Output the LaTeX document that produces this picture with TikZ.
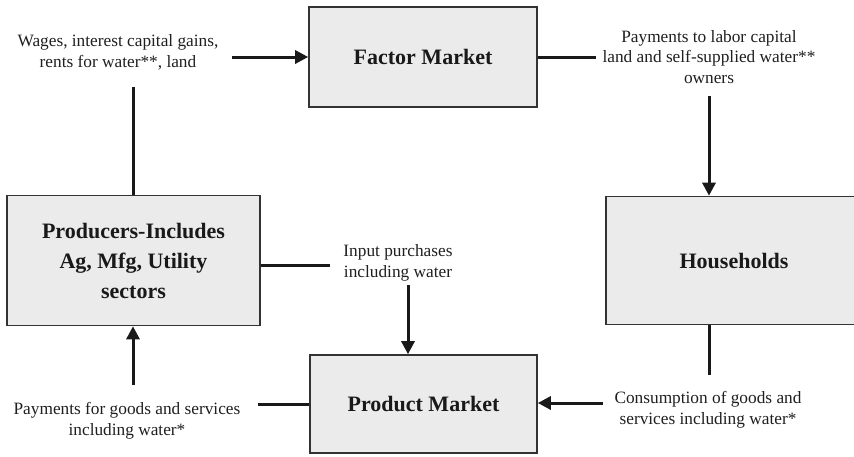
\documentclass[tikz,border=0pt]{standalone}
\usepackage{fontspec}
\setmainfont{Liberation Serif}
\usetikzlibrary{arrows.meta}
\begin{document}
\begin{tikzpicture}[x=1pt,y=-1pt,
  marketbox/.style={draw=black!80,line width=1.6pt,fill=black!8,
    inner sep=0pt,align=center,text=black!90,font=\fontsize{22}{30}\selectfont\bfseries},
  flowlabel/.style={align=center,inner sep=0pt,text=black!88,
    font=\fontsize{17.3}{20.8}\selectfont},
  flow/.style={line width=3pt,black!90},
  flowarrow/.style={flow,-{Triangle[length=13pt,width=13pt]}}]
\useasboundingbox (0,0) rectangle (854,456);
\clip (0,0) rectangle (854,456);

% sectors and markets
\node[marketbox,minimum width=228,minimum height=100] (factor) at (423,57) {Factor Market};
\node[marketbox,minimum width=253,minimum height=130] (prod) at (133.5,260.5)
  {Producers-Includes\\Ag, Mfg, Utility\\sectors};
\node[marketbox,minimum width=256,minimum height=128] (house) at (734,260.5) {Households};
\node[marketbox,minimum width=227,minimum height=98] (product) at (423.5,404) {Product Market};

% flow descriptions
\node[flowlabel] (wages) at (118,52) {Wages, interest capital gains,\\rents for water**, land};
\node[flowlabel] (payfac) at (709,57) {Payments to labor capital\\land and self-supplied water**\\owners};
\node[flowlabel] (input) at (398,263) {Input purchases\\including water};
\node[flowlabel] (paygoods) at (127,421) {Payments for goods and services\\including water*};
\node[flowlabel] (consum) at (708,410) {Consumption of goods and\\services including water*};

% free ends of the connectors
\coordinate (w1) at (133,87);
\coordinate (w2) at (232,57);
\coordinate (p1) at (596,57);
\coordinate (p2) at (709,96);
\coordinate (h1) at (709,375);
\coordinate (h2) at (603,403);
\coordinate (i1) at (330,265);
\coordinate (i2) at (408,285);
\coordinate (g1) at (258,404);
\coordinate (g2) at (133,385);

% producers -> factor market
\draw[flow] (prod.north -| w1) -- (w1);
\draw[flowarrow] (w2) -- (factor.west |- w2);
% factor market -> households
\draw[flow] (factor.east |- p1) -- (p1);
\draw[flowarrow] (p2) -- (p2 |- house.north);
% households -> product market
\draw[flow] (house.south -| h1) -- (h1);
\draw[flowarrow] (h2) -- (product.east |- h2);
% producers -> product market
\draw[flow] (prod.east |- i1) -- (i1);
\draw[flowarrow] (i2) -- (i2 |- product.north);
% product market -> producers
\draw[flow] (product.west |- g1) -- (g1);
\draw[flowarrow] (g2) -- (g2 |- prod.south);
\end{tikzpicture}
\end{document}
